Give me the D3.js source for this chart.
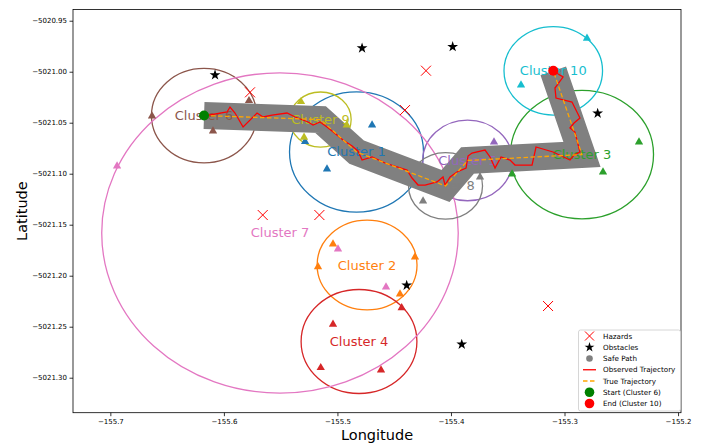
<!DOCTYPE html>
<html>
<head>
<meta charset="utf-8">
<script src="https://cdn.jsdelivr.net/npm/d3@7"></script>
<style>
	body { margin: 0; background: #fff; }
	svg { display: block; font-family: 'DejaVu Sans', sans-serif; }
</style>
</head>
<body>
<svg id="map"></svg>
<script>
// ========== DATA ==========
var clusterIds = [1, 2, 3, 4, 5, 6, 7, 8, 9, 10];
var clusterLon = [-155.4832, -155.4739, -155.2846, -155.4810, -155.3854, -155.6175, -155.5506, -155.4048, -155.5149, -155.3099];
var clusterLat = [-5021.0787, -5021.1895, -5021.0812, -5021.2645, -5021.0870, -5021.0430, -5021.1581, -5021.1120, -5021.0469, -5020.9991];
var clusterRadius = [0.059, 0.044, 0.063, 0.051, 0.0395, 0.0463, 0.157, 0.0326, 0.027, 0.0434];

// points belonging to each cluster
var memberCluster = [1, 1, 1, 2, 2, 2, 2, 3, 3, 3, 4, 4, 4, 4, 5, 6, 6, 6, 7, 7, 7, 8, 8, 9, 9, 9, 10, 10];
var memberLon = [-155.4695, -155.5285, -155.5092, -155.5039, -155.5171, -155.4317, -155.4449,
	-155.2344, -155.2661, -155.3462, -155.4434, -155.5039, -155.5147, -155.4616,
	-155.3621, -155.6633, -155.5779, -155.6096, -155.6941, -155.4995, -155.4572,
	-155.4246, -155.3744, -155.5321, -155.4918, -155.5294, -155.2802, -155.3383];
var memberLat = [-5021.0523, -5021.0684, -5021.0954, -5021.1689, -5021.1912, -5021.1817, -5021.2179,
	-5021.0689, -5021.0983, -5021.1003, -5021.2314, -5021.2477, -5021.2902, -5021.2925,
	-5021.0689, -5021.0434, -5021.0284, -5021.0581, -5021.0925, -5021.1738, -5021.2111,
	-5021.1268, -5021.1032, -5021.0294, -5021.0523, -5021.0643, -5020.9673, -5021.0130];

var hazardLon = [-155.5770, -155.4220, -155.4405, -155.5658, -155.5159, -155.3145];
var hazardLat = [-5021.0202, -5020.9990, -5021.0376, -5021.1405, -5021.1405, -5021.2297];

var obstacleLon = [-155.6078, -155.4783, -155.3985, -155.2708, -155.4390, -155.3905];
var obstacleLat = [-5021.0032, -5020.9768, -5020.9755, -5021.0408, -5021.2094, -5021.2673];

// safe path / true trajectory visits these cluster centres
var pathOrder = [6, 9, 1, 8, 5, 3, 10];

var observedLon = [-155.6175, -155.5972, -155.5946, -155.5902, -155.5831, -155.5708, -155.5655, -155.5576,
	-155.5444, -155.5373, -155.5259, -155.5215, -155.5153, -155.5092, -155.5004, -155.4951, -155.4871,
	-155.4819, -155.4783, -155.4695, -155.4581, -155.4387, -155.4343, -155.4290, -155.4228, -155.4123,
	-155.4070, -155.4052, -155.4008, -155.3947, -155.3867, -155.3850, -155.3815, -155.3700, -155.3656,
	-155.3612, -155.3559, -155.3480, -155.3436, -155.3286, -155.3251, -155.3101, -155.2952, -155.2916,
	-155.2864, -155.2908, -155.2952, -155.2916, -155.2864, -155.2934, -155.3075, -155.3084, -155.3013,
	-155.3101];
var observedLat = [-5021.0434, -5021.0395, -5021.0346, -5021.0405, -5021.0542, -5021.0405, -5021.0444, -5021.0425,
	-5021.0405, -5021.0444, -5021.0493, -5021.0523, -5021.0493, -5021.0542, -5021.0621, -5021.0670, -5021.0728,
	-5021.0777, -5021.0866, -5021.0836, -5021.0895, -5021.0964, -5021.1042, -5021.1111, -5021.1111, -5021.1081,
	-5021.1032, -5021.1111, -5021.1032, -5021.0983, -5021.0944, -5021.0827, -5021.0797, -5021.0768, -5021.0836,
	-5021.0944, -5021.0836, -5021.0866, -5021.0915, -5021.0915, -5021.0738, -5021.0787, -5021.0866, -5021.0817,
	-5021.0787, -5021.0591, -5021.0552, -5021.0503, -5021.0454, -5021.0297, -5021.0258, -5021.0160, -5021.0052,
	-5020.9993];

var xTicks = [-155.7, -155.6, -155.5, -155.4, -155.3, -155.2];
var yTicks = [-5020.95, -5021.00, -5021.05, -5021.10, -5021.15, -5021.20, -5021.25, -5021.30];

var legendLabels = ['Hazards', 'Obstacles', ' Safe Path', 'Observed Trajectory', 'True Trajectory', 'Start (Cluster 6)', 'End (Cluster 10)'];

drawMap();

function drawMap() {
	// ========== CONSTANTS ==========
	var palette = ['#1f77b4', '#ff7f0e', '#2ca02c', '#d62728', '#9467bd', '#8c564b', '#e377c2', '#7f7f7f', '#bcbd22', '#17becf'];
	var width = 706;
	var height = 447;
	var left = 73, right = 681, top = 9.5, bottom = 412.7;

	var svg = d3.select('#map')
		.attr('width', width)
		.attr('height', height);

	var x = d3.scaleLinear()
		.domain([-155.7329, -155.1974])
		.range([left, right]);
	var y = d3.scaleLinear()
		.domain([-5020.939, -5021.3343])
		.range([top, bottom]);

	function clusterColor(id) { return palette[id - 1]; }

	var clusters = clusterIds.map(function(id, i) {
		return { id: id, lon: clusterLon[i], lat: clusterLat[i], r: clusterRadius[i] };
	});
	var members = memberCluster.map(function(c, i) {
		return { cluster: c, lon: memberLon[i], lat: memberLat[i] };
	});
	var pathPoints = pathOrder.map(function(id) { return clusters[id - 1]; });
	var observed = observedLon.map(function(d, i) { return [d, observedLat[i]]; });

	var plot = svg.append('g');

	plot.append('clipPath').attr('id', 'clip')
		.append('rect')
		.attr('x', left).attr('y', top)
		.attr('width', right - left).attr('height', bottom - top);

	var inner = plot.append('g').attr('clip-path', 'url(#clip)');

	// cluster circles (circles in data units -> ellipses on screen)
	inner.selectAll('.cluster-ring')
		.data(clusters).enter().append('ellipse')
			.attr('class', 'cluster-ring')
			.attr('cx', function(d) { return x(d.lon); })
			.attr('cy', function(d) { return y(d.lat); })
			.attr('rx', function(d) { return x(d.lon + d.r) - x(d.lon); })
			.attr('ry', function(d) { return y(d.lat - d.r) - y(d.lat); })
			.style('fill', 'none')
			.style('stroke', function(d) { return clusterColor(d.id); })
			.style('stroke-width', 1.3);

	// safe path band
	var line = d3.line()
		.x(function(d) { return x(d.lon); })
		.y(function(d) { return y(d.lat); });

	inner.append('path')
		.attr('d', line(pathPoints))
		.style('fill', 'none')
		.style('stroke', '#808080')
		.style('stroke-width', 27)
		.style('stroke-linejoin', 'miter')
		.style('stroke-linecap', 'butt');

	// cluster members
	var triangle = d3.symbol().type(d3.symbolTriangle).size(30);
	inner.selectAll('.member')
		.data(members).enter().append('path')
			.attr('class', 'member')
			.attr('d', triangle)
			.attr('transform', function(d) { return 'translate(' + x(d.lon) + ',' + y(d.lat) + ')'; })
			.style('fill', function(d) { return clusterColor(d.cluster); });

	// cluster labels
	inner.selectAll('.cluster-label')
		.data(clusters).enter().append('text')
			.attr('class', 'cluster-label')
			.attr('x', function(d) { return x(d.lon); })
			.attr('y', function(d) { return y(d.lat); })
			.attr('text-anchor', 'middle')
			.attr('dominant-baseline', 'central')
			.style('font-size', '13px')
			.style('fill', function(d) { return clusterColor(d.id); })
			.text(function(d) { return 'Cluster ' + d.id; });

	// trajectories
	inner.append('path')
		.attr('d', d3.line().x(function(d) { return x(d[0]); }).y(function(d) { return y(d[1]); })(observed))
		.style('fill', 'none')
		.style('stroke', '#ff0000')
		.style('stroke-width', 1.3);

	inner.append('path')
		.attr('d', line(pathPoints))
		.style('fill', 'none')
		.style('stroke', '#ffa500')
		.style('stroke-width', 1.3)
		.style('stroke-dasharray', '4.5,2.5');

	// hazards
	var hazards = inner.selectAll('.hazard')
		.data(hazardLon).enter().append('g')
			.attr('class', 'hazard')
			.attr('transform', function(d, i) { return 'translate(' + x(d) + ',' + y(hazardLat[i]) + ')'; });
	drawCross(hazards, 5);

	// obstacles
	var star = d3.symbol().type(d3.symbolStar).size(36);
	inner.selectAll('.obstacle')
		.data(obstacleLon).enter().append('path')
			.attr('class', 'obstacle')
			.attr('d', star)
			.attr('transform', function(d, i) { return 'translate(' + x(d) + ',' + y(obstacleLat[i]) + ')'; })
			.style('fill', 'black');

	// start / end
	var startC = pathPoints[0], endC = pathPoints[pathPoints.length - 1];
	inner.append('circle')
		.attr('cx', x(startC.lon)).attr('cy', y(startC.lat)).attr('r', 5)
		.style('fill', '#008000');
	inner.append('circle')
		.attr('cx', x(endC.lon)).attr('cy', y(endC.lat)).attr('r', 5)
		.style('fill', '#ff0000');

	// ========== AXES ==========
	var xAxis = plot.append('g')
		.attr('transform', 'translate(0,' + bottom + ')')
		.call(d3.axisBottom(x).tickValues(xTicks).tickFormat(d3.format('.1f')).tickSizeOuter(0).tickSize(3.5).tickPadding(2.5));
	var yAxis = plot.append('g')
		.attr('transform', 'translate(' + left + ',0)')
		.call(d3.axisLeft(y).tickValues(yTicks).tickFormat(d3.format('.2f')).tickSizeOuter(0).tickSize(3.5).tickPadding(2.5));
	[xAxis, yAxis].forEach(function(a) {
		a.select('.domain').remove();
		a.selectAll('text').style('font-size', '7px').style('font-family', 'DejaVu Sans').attr('fill', '#000');
		a.selectAll('line').attr('stroke', '#000').attr('stroke-width', 0.8);
	});

	plot.append('rect')
		.attr('x', left).attr('y', top)
		.attr('width', right - left).attr('height', bottom - top)
		.style('fill', 'none')
		.style('stroke', '#000')
		.style('stroke-width', 0.8);

	svg.append('text')
		.attr('x', (left + right) / 2)
		.attr('y', 440)
		.attr('text-anchor', 'middle')
		.style('font-size', '14.5px')
		.text('Longitude');
	svg.append('text')
		.attr('transform', 'translate(27,' + ((top + bottom) / 2) + ')rotate(-90)')
		.attr('text-anchor', 'middle')
		.style('font-size', '14.5px')
		.text('Latitude');

	// ========== LEGEND ==========
	var legend = svg.append('g');
	var legendX = 578.5, legendY = 330, legendRow = 11.25;
	legend.append('rect')
		.attr('x', legendX).attr('y', legendY)
		.attr('width', 102).attr('height', 81)
		.attr('rx', 2)
		.style('fill', 'white')
		.style('fill-opacity', 0.8)
		.style('stroke', '#cccccc')
		.style('stroke-width', 0.8);

	var rows = legend.selectAll('.legend-row')
		.data(legendLabels).enter().append('g')
			.attr('class', 'legend-row')
			.attr('transform', function(d, i) { return 'translate(' + (legendX + 11) + ',' + (legendY + 6 + i * legendRow) + ')'; });

	rows.append('text')
		.attr('x', 13.5)
		.attr('dominant-baseline', 'central')
		.style('font-size', '7.2px')
		.text(function(d) { return d; });

	drawCross(rows.filter(function(d, i) { return i === 0; }), 4.5);
	rows.filter(function(d, i) { return i === 1; }).append('path')
		.attr('d', d3.symbol().type(d3.symbolStar).size(30))
		.style('fill', 'black');
	rows.filter(function(d, i) { return i === 2; }).append('circle')
		.attr('r', 3.3).style('fill', '#808080');
	rows.filter(function(d, i) { return i === 3; }).append('line')
		.attr('x1', -6.5).attr('x2', 6.5)
		.style('stroke', '#ff0000').style('stroke-width', 1.3);
	rows.filter(function(d, i) { return i === 4; }).append('line')
		.attr('x1', -6.5).attr('x2', 6.5)
		.style('stroke', '#ffa500').style('stroke-width', 1.3).style('stroke-dasharray', '4.5,2.5');
	rows.filter(function(d, i) { return i === 5; }).append('circle')
		.attr('r', 4.8).style('fill', '#008000');
	rows.filter(function(d, i) { return i === 6; }).append('circle')
		.attr('r', 4.8).style('fill', '#ff0000');

	function drawCross(sel, s) {
		sel.append('line')
			.attr('x1', -s).attr('y1', -s).attr('x2', s).attr('y2', s)
			.style('stroke', '#ff0000').style('stroke-width', 1);
		sel.append('line')
			.attr('x1', -s).attr('y1', s).attr('x2', s).attr('y2', -s)
			.style('stroke', '#ff0000').style('stroke-width', 1);
	}
}
</script>
</body>
</html>
